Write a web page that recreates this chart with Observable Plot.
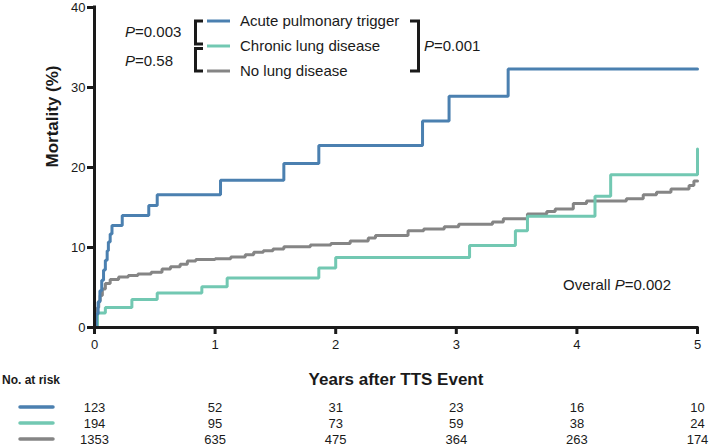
<!DOCTYPE html>
<html>
<head>
<meta charset="utf-8">
<script src="https://cdn.jsdelivr.net/npm/d3@7"></script>
<script src="https://cdn.jsdelivr.net/npm/@observablehq/plot@0.6"></script>
<style>
  html, body { margin: 0; padding: 0; background: #fff; }
  #chart { width: 709px; height: 446px; position: relative; }
  #chart svg { display: block; }
</style>
</head>
<body>
<div id="chart"></div>
<script>
// ---------- data ----------
const groups = ["Acute pulmonary trigger", "Chronic lung disease", "No lung disease"];
const colors = ["#4b80b0", "#72c8b2", "#858585"];

const acuteT = [0, 0.015, 0.03, 0.045, 0.06, 0.075, 0.09, 0.105, 0.115, 0.13, 0.145, 0.23, 0.45, 0.52, 1.045, 1.57, 1.86, 2.72, 2.94, 3.43, 5];
const acuteV = [0, 1.7, 3.2, 4.6, 5.9, 7.2, 8.4, 9.6, 10.7, 11.7, 12.75, 14, 15.25, 16.6, 18.4, 20.5, 22.75, 25.8, 28.9, 32.3, 32.3];

const chronicT = [0, 0.025, 0.09, 0.31, 0.52, 0.89, 1.1, 1.86, 2.0, 3.11, 3.49, 3.59, 4.15, 4.28, 5];
const chronicV = [0, 1.8, 2.5, 3.5, 4.3, 5.1, 6.2, 7.45, 8.75, 10.25, 12.1, 13.9, 16.4, 19.1, 22.3];

const noneT = [0, 0.008, 0.016, 0.025, 0.035, 0.047, 0.065, 0.09, 0.13, 0.2, 0.28, 0.36, 0.47, 0.56, 0.63, 0.71, 0.77, 0.84, 1.0, 1.13, 1.25, 1.32, 1.4, 1.48, 1.57, 1.79, 1.96, 2.12, 2.27, 2.33, 2.6, 2.73, 2.9, 3.02, 3.3, 3.39, 3.59, 3.75, 3.82, 3.97, 4.08, 4.41, 4.55, 4.66, 4.78, 4.93, 4.97, 5];
const noneV = [0, 1.0, 1.8, 2.5, 3.3, 4.0, 4.8, 5.5, 6.0, 6.3, 6.5, 6.7, 6.9, 7.3, 7.6, 7.9, 8.3, 8.5, 8.6, 8.8, 9.1, 9.4, 9.6, 9.8, 10.1, 10.3, 10.5, 10.8, 11.2, 11.5, 12.1, 12.3, 12.6, 12.9, 13.2, 13.6, 14.2, 14.5, 14.8, 15.5, 15.8, 16.1, 16.6, 16.9, 17.3, 17.75, 18.3, 18.3];

const riskYears = [0, 1, 2, 3, 4, 5];
const riskAcute = [123, 52, 31, 23, 16, 10];
const riskChronic = [194, 95, 73, 59, 38, 24];
const riskNone = [1353, 635, 475, 364, 263, 174];

const xTicks = [0, 1, 2, 3, 4, 5];
const yTicks = [0, 10, 20, 30, 40];

const pAcuteChronic = "0.003";
const pChronicNone = "0.58";
const pAcuteNone = "0.001";
const pOverall = "0.002";

// ---------- build tables ----------
const seriesT = [acuteT, chronicT, noneT];
const seriesV = [acuteV, chronicV, noneV];
const curves = [];
[2, 1, 0].forEach(i => {
  seriesT[i].forEach((t, j) => curves.push({group: groups[i], t, v: seriesV[i][j]}));
});
const riskSeries = [riskAcute, riskChronic, riskNone];
const risk = [];
riskSeries.forEach((arr, i) => arr.forEach((n, j) => risk.push({group: groups[i], year: riskYears[j], n})));

const font = "'Liberation Sans', Arial, Helvetica, sans-serif";
const ink = "#1a1a1a";

// ---------- main plot ----------
const main = Plot.plot({
  width: 709,
  height: 392,
  marginLeft: 94,
  marginRight: 12,
  marginTop: 7,
  marginBottom: 65,
  style: {fontFamily: font, fontSize: "13px", color: ink, background: "white", overflow: "visible"},
  x: {domain: [0, 5]},
  y: {domain: [0, 40]},
  color: {domain: groups, range: colors},
  marks: [
    Plot.axisX({ticks: xTicks, tickFormat: d => String(d), tickSize: 7, tickPadding: 5, strokeWidth: 3, label: null, fontSize: 13}),
    Plot.axisY({ticks: yTicks, tickFormat: d => String(d), tickSize: 7, tickPadding: 2, strokeWidth: 3, label: null, fontSize: 13}),
    Plot.line(curves, {x: "t", y: "v", z: "group", stroke: "group", strokeWidth: 3, curve: "step-after", strokeLinejoin: "miter"}),
    Plot.ruleX([0], {y1: 0, y2: 40, stroke: ink, strokeWidth: 3, strokeLinecap: "square"}),
    Plot.ruleY([0], {x1: 0, x2: 5, stroke: ink, strokeWidth: 3, strokeLinecap: "square"}),
    Plot.text(["Years after TTS Event"], {frameAnchor: "bottom", dy: 57, fontSize: 17, fontWeight: "bold", fill: ink}),
    Plot.text(["Mortality (%)"], {frameAnchor: "left", dx: -42, rotate: -90, fontSize: 17, fontWeight: "bold", fill: ink})
  ]
});

// annotations: legend, brackets, p-values
const svg = d3.select(main);
const g = svg.append("g").attr("font-family", font).attr("fill", ink).attr("text-anchor", "start");
const legY = [21, 46, 71];
groups.forEach((name, i) => {
  g.append("line").attr("x1", 207).attr("x2", 230).attr("y1", legY[i]).attr("y2", legY[i])
    .attr("stroke", colors[i]).attr("stroke-width", 3);
  g.append("text").attr("x", 240).attr("y", legY[i]).attr("dy", "0.35em")
    .attr("text-anchor", "start").attr("font-size", 15).text(name);
});
const br = g.append("g").attr("fill", "none").attr("stroke", ink).attr("stroke-width", 3);
br.append("path").attr("d", "M203,21H195.5V44H203");
br.append("path").attr("d", "M203,48.5H195.5V71H203");
br.append("path").attr("d", "M410,21H418.5V71H410");

function pText(x, y, value, prefix) {
  const t = g.append("text").attr("x", x).attr("y", y).attr("dy", "0.35em")
    .attr("font-size", 15).attr("text-anchor", "start");
  if (prefix) t.append("tspan").text(prefix);
  t.append("tspan").attr("font-style", "italic").text("P");
  t.append("tspan").text("=" + value);
}
pText(125, 32, pAcuteChronic);
pText(125, 61, pChronicNone);
pText(424, 46, pAcuteNone);
pText(563, 285, pOverall, "Overall ");

g.append("text").attr("x", 2).attr("y", 380).attr("dy", "0.35em").attr("text-anchor", "start")
  .attr("font-size", 12).attr("font-weight", "bold").text("No. at risk");

// ---------- risk table ----------
const table = Plot.plot({
  width: 709,
  height: 54,
  marginLeft: 94,
  marginRight: 12,
  marginTop: 0,
  marginBottom: 0,
  style: {fontFamily: font, fontSize: "13px", color: ink, background: "white", overflow: "visible"},
  x: {domain: [0, 5], axis: null},
  y: {type: "point", domain: groups, range: [15, 47], padding: 0, axis: null},
  marks: [
    Plot.text(risk, {x: "year", y: "group", text: d => String(d.n), fontSize: 13, fill: ink})
  ]
});
const ys = table.scale("y");
const tg = d3.select(table).append("g");
groups.forEach((name, i) => {
  const y = ys.apply(name);
  tg.append("line").attr("x1", 20).attr("x2", 53).attr("y1", y).attr("y2", y)
    .attr("stroke", colors[i]).attr("stroke-width", 3.5).attr("stroke-linecap", "round");
});

const root = document.getElementById("chart");
root.appendChild(main);
root.appendChild(table);
</script>
</body>
</html>
